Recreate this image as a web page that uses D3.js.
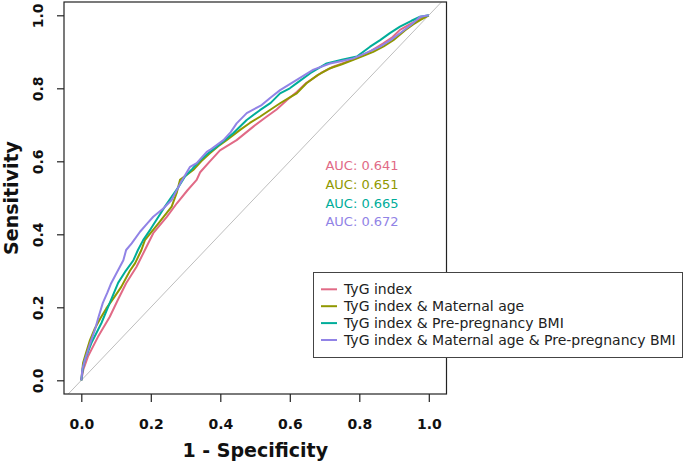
<!DOCTYPE html>
<html><head><meta charset="utf-8">
<script src="https://cdn.jsdelivr.net/npm/d3@7"></script>
<style>
body{margin:0;background:#fff;}
svg{display:block;}
</style></head>
<body>
<svg id="c" width="685" height="463"></svg>
<script>
// ---- data ----
const seriesNames = ["TyG index", "TyG index & Maternal age", "TyG index & Pre-pregnancy BMI", "TyG index & Maternal age & Pre-pregnancy BMI"];
const seriesColors = ["#E16A86", "#909800", "#00AD9A", "#9183E6"];
const aucLabels = ["AUC: 0.641", "AUC: 0.651", "AUC: 0.665", "AUC: 0.672"];
const xTicks = [0, 0.2, 0.4, 0.6, 0.8, 1.0];
const yTicks = [0, 0.2, 0.4, 0.6, 0.8, 1.0];

// [1-specificity, sensitivity]
const rocTyG = [[0,0],[0.006,0.03],[0.019,0.065],[0.048,0.119],[0.082,0.174],[0.105,0.22],[0.129,0.266],[0.159,0.311],[0.183,0.357],[0.207,0.403],[0.246,0.448],[0.275,0.485],[0.305,0.52],[0.332,0.549],[0.342,0.57],[0.370,0.600],[0.399,0.630],[0.447,0.658],[0.495,0.695],[0.530,0.72],[0.562,0.742],[0.592,0.768],[0.620,0.790],[0.648,0.815],[0.690,0.842],[0.725,0.859],[0.765,0.873],[0.802,0.887],[0.835,0.903],[0.869,0.923],[0.895,0.94],[0.917,0.960],[0.950,0.978],[0.975,0.99],[1,1]];
const rocAge = [[0,0],[0.005,0.047],[0.012,0.07],[0.025,0.11],[0.039,0.142],[0.055,0.17],[0.072,0.197],[0.095,0.228],[0.115,0.256],[0.140,0.30],[0.155,0.321],[0.173,0.357],[0.183,0.384],[0.205,0.41],[0.222,0.430],[0.260,0.476],[0.275,0.515],[0.284,0.549],[0.322,0.576],[0.345,0.60],[0.370,0.622],[0.395,0.642],[0.418,0.658],[0.457,0.686],[0.485,0.705],[0.514,0.722],[0.545,0.742],[0.572,0.759],[0.600,0.775],[0.620,0.786],[0.648,0.814],[0.680,0.836],[0.716,0.855],[0.750,0.866],[0.783,0.878],[0.810,0.888],[0.840,0.900],[0.870,0.915],[0.898,0.932],[0.932,0.959],[0.955,0.975],[0.975,0.987],[1,1]];
const rocBMI = [[0,0],[0.004,0.03],[0.010,0.055],[0.029,0.102],[0.058,0.157],[0.082,0.212],[0.106,0.267],[0.128,0.30],[0.150,0.329],[0.163,0.357],[0.178,0.384],[0.200,0.415],[0.222,0.448],[0.240,0.475],[0.260,0.503],[0.280,0.53],[0.298,0.558],[0.320,0.58],[0.342,0.603],[0.365,0.622],[0.390,0.640],[0.415,0.66],[0.437,0.677],[0.476,0.713],[0.514,0.740],[0.545,0.76],[0.572,0.786],[0.600,0.800],[0.624,0.817],[0.660,0.842],[0.706,0.868],[0.750,0.878],[0.793,0.887],[0.831,0.914],[0.860,0.932],[0.888,0.951],[0.917,0.969],[0.950,0.985],[0.975,0.996],[1,1]];
const rocAll = [[0,0],[0.003,0.03],[0.010,0.055],[0.025,0.10],[0.039,0.138],[0.050,0.175],[0.062,0.212],[0.075,0.24],[0.086,0.266],[0.105,0.30],[0.121,0.329],[0.129,0.357],[0.145,0.375],[0.169,0.407],[0.190,0.43],[0.207,0.448],[0.235,0.47],[0.260,0.494],[0.285,0.54],[0.313,0.585],[0.332,0.595],[0.361,0.626],[0.370,0.631],[0.409,0.658],[0.430,0.68],[0.447,0.704],[0.476,0.732],[0.519,0.754],[0.545,0.775],[0.572,0.795],[0.620,0.823],[0.668,0.851],[0.716,0.868],[0.750,0.875],[0.783,0.882],[0.820,0.897],[0.860,0.914],[0.890,0.932],[0.917,0.951],[0.950,0.975],[0.975,0.996],[1,1]];
const rocSeries = [rocTyG, rocAge, rocBMI, rocAll];

// ---- drawing ----
const svg = d3.select("#c");
const box = {l:64, t:2, r:446.5, b:394};
const x = d3.scaleLinear().domain([0,1]).range([81.3, 428.8]);
const y = d3.scaleLinear().domain([0,1]).range([380.3, 15.3]);

svg.append("defs").append("clipPath").attr("id","clip")
  .append("rect").attr("x",box.l).attr("y",box.t).attr("width",box.r-box.l).attr("height",box.b-box.t);

// diagonal reference
svg.append("line")
  .attr("clip-path","url(#clip)")
  .attr("x1", x(-0.1)).attr("y1", y(-0.1)).attr("x2", x(1.1)).attr("y2", y(1.1))
  .attr("stroke","#BEBEBE").attr("stroke-width",1);

const line = d3.line().x(d=>x(d[0])).y(d=>y(d[1]));
rocSeries.forEach((s,i)=>{
  svg.append("path").datum(s)
    .attr("d", line).attr("fill","none")
    .attr("stroke", seriesColors[i]).attr("stroke-width",2)
    .attr("stroke-linejoin","round");
});

// box
svg.append("rect").attr("x",box.l).attr("y",box.t).attr("width",box.r-box.l).attr("height",box.b-box.t)
  .attr("fill","none").attr("stroke","#222").attr("stroke-width",1.2);

// axes
const xa = svg.append("g").attr("transform",`translate(0,${box.b})`)
  .call(d3.axisBottom(x).tickValues(xTicks).tickFormat(d3.format(".1f")).tickSize(8));
xa.select(".domain").remove();
xa.selectAll("line").attr("stroke","#222").attr("stroke-width",1.2);
xa.selectAll("text").attr("y",35).attr("dy",0)
  .attr("font-family","DejaVu Sans").attr("font-weight","bold").attr("font-size",14).attr("fill","#111");

const ya = svg.append("g").attr("transform",`translate(${box.l},0)`)
  .call(d3.axisLeft(y).tickValues(yTicks).tickFormat(d3.format(".1f")).tickSize(7));
ya.select(".domain").remove();
ya.selectAll("line").attr("stroke","#222").attr("stroke-width",1.2);
ya.selectAll("text").attr("x",0).attr("y",0).attr("dy",0)
  .attr("transform","translate(-20.7,0) rotate(-90)").attr("text-anchor","middle")
  .attr("font-family","DejaVu Sans").attr("font-weight","bold").attr("font-size",14).attr("fill","#111");

// axis titles
svg.append("text").attr("x",(box.l+box.r)/2).attr("y",456.5).attr("text-anchor","middle")
  .attr("font-family","DejaVu Sans").attr("font-weight","bold").attr("font-size",19).attr("fill","#111")
  .text("1 - Specificity");
svg.append("text").attr("transform",`translate(18,${(box.t+box.b)/2}) rotate(-90)`).attr("text-anchor","middle")
  .attr("font-family","DejaVu Sans").attr("font-weight","bold").attr("font-size",19).attr("fill","#111")
  .text("Sensitivity");

// AUC labels
aucLabels.forEach((t,i)=>{
  svg.append("text").attr("x",362).attr("y",165.7+i*18.7).attr("dy","0.35em")
    .attr("text-anchor","middle").attr("font-family","DejaVu Sans").attr("font-size",13)
    .attr("fill",seriesColors[i]).text(t);
});

// legend
const lg = svg.append("g");
lg.append("rect").attr("x",313.5).attr("y",272.5).attr("width",369).attr("height",85)
  .attr("fill","#fff").attr("stroke","#444").attr("stroke-width",1);
seriesNames.forEach((n,i)=>{
  const cy = 289.3 + i*16.9;
  lg.append("line").attr("x1",321).attr("x2",337).attr("y1",cy).attr("y2",cy)
    .attr("stroke",seriesColors[i]).attr("stroke-width",2);
  lg.append("text").attr("x",344).attr("y",cy).attr("dy","0.35em")
    .attr("font-family","DejaVu Sans").attr("font-size",14).attr("fill","#222").text(n);
});
</script>
</body></html>
